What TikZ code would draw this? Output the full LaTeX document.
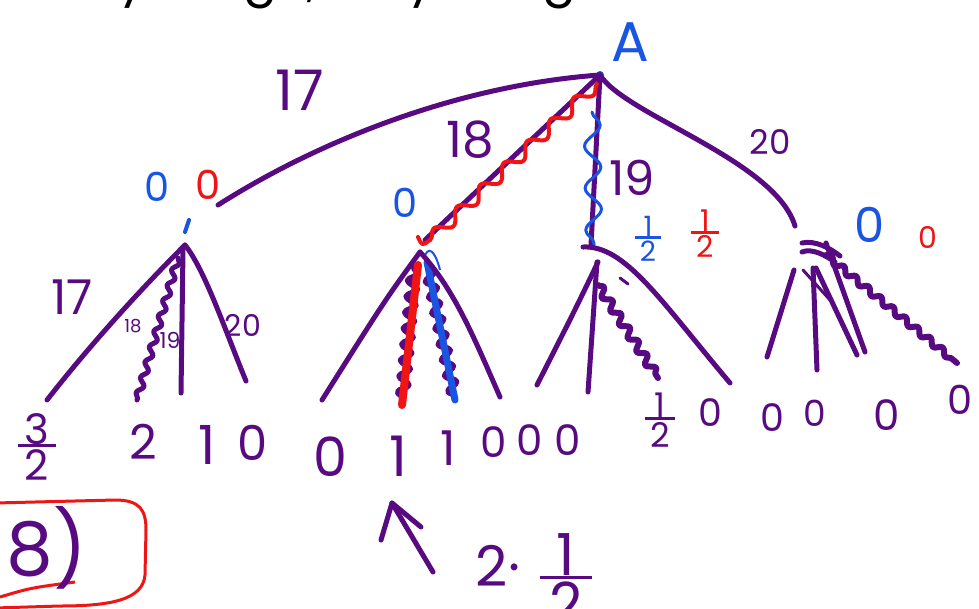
\documentclass[tikz,border=0pt]{standalone}
\usepackage{fontspec}
\setmainfont{Poppins}
\usetikzlibrary{decorations.pathmorphing}
\definecolor{pp}{RGB}{88,10,128}
\definecolor{rd}{RGB}{240,20,20}
\definecolor{bl}{RGB}{25,85,225}
\setlength{\arrayrulewidth}{3pt}
\newcommand{\hfr}[2]{\begin{tabular}{@{\,}c@{\,}}#1\\[-0.3em]\hline\noalign{\vskip0.05em}#2\end{tabular}}
\tikzset{
  pen/.style={pp, line width=5pt, line cap=round, line join=round},
  rpen/.style={rd, line width=4pt, line cap=round, line join=round},
  bpen/.style={bl, line width=4pt, line cap=round, line join=round},
  wig/.style={decorate, decoration={snake, amplitude=#1, segment length=16pt}},
  wig/.default=4pt,
  bigwig/.style={decorate, decoration={snake, amplitude=#1, segment length=32pt}},
  bigwig/.default=6pt,
  lab/.style={inner sep=0pt, font=\fontsize{#1}{#1}\selectfont},
  lab/.default=48,
}
\begin{document}
\begin{tikzpicture}[x=1pt,y=-1pt]
\useasboundingbox (0,0) rectangle (979,608);
\clip (0,0) rectangle (979,608);
% heading (cut off at the top)
\node[lab=50, anchor=base east, text=black] (head) at (865,-5) {ounty Wage, only integer amounts};
% root
\coordinate (A) at (600,75);
\node[lab=56, text=bl] (Alab) at (630,42) {A};
\fill[bl] (A) circle (4pt);
% children
\coordinate (c1) at (218,205);
\coordinate (c2) at (425,240);
\coordinate (c3) at (591,245);
\coordinate (c4) at (795,226);
\draw[pen] (c1) .. controls (320,140) and (460,85) .. (A);
\draw[pen] (A) -- (c2);
\draw[pen] (A) -- (c3);
\draw[pen] (A) .. controls (625,115) and (775,160) .. (c4);
\draw[rpen, bigwig=6pt] (597,84) -- (430,240);
\draw[rpen] (430,240) .. controls (422,246) .. (418,237);
\draw[bpen, line width=3pt, decorate, decoration={snake, amplitude=8pt, segment length=42pt}] (592,112) -- (594,245);
% edge labels
\node[lab=56,text=pp] (e17) at (300,90) {17};
\node[lab=50,text=pp] (e18) at (470,140) {18};
\node[lab=48,text=pp] (e19) at (632,178) {19};
\node[lab=34,text=pp] (e20) at (770,142) {20};
% annotations
\node[lab=40,text=bl] (b1) at (157,187) {0};
\node[lab=40,text=rd] (r1) at (208,185) {0};
\draw[bpen] (185,232) -- (189,220);
\node[lab=40,text=bl] (b2) at (405,203) {0};
\node[lab=28,text=bl] (b3) at (648,243) {\hfr{1}{2}};
\node[lab=30,text=rd] (r3) at (705,238) {\hfr{1}{2}};
\node[lab=48,text=bl] (b4) at (870,225) {0};
\node[lab=30,text=rd] (r4) at (928,237) {0};
% left subtree
\coordinate (L) at (185,245);
\draw[pen] (L) .. controls (140,290) and (90,345) .. (47,400);
\draw[pen, wig=3pt] (178,258) -- (137,400);
\draw[pen] (183,250) -- (181,393);
\draw[pen] (L) .. controls (205,270) and (225,330) .. (246,381);
\node[lab=48,text=pp] (l17) at (72,297) {17};
\node[lab=18,text=pp] (l18) at (133,326) {18};
\node[lab=22,text=pp] (l19) at (170,340) {19};
\node[lab=30,text=pp] (l20) at (243,325) {20};
% middle subtree
\coordinate (M) at (420,252);
\draw[pen] (M) .. controls (385,300) .. (322,400);
\draw[pen, line width=6pt, wig=5pt] (414,268) -- (402,402);
\draw[rd, line width=8pt, line cap=round] (418,265) -- (402,405);
\draw[pen, line width=6pt, wig=5pt] (428,268) -- (455,400);
\draw[bl, line width=7pt, line cap=round] (427,262) -- (455,400);
\draw[bl, line width=2pt] (424,258) .. controls (428,245) and (435,250) .. (440,270);
\draw[pen] (M) .. controls (455,290) and (475,340) .. (500,397);
% third subtree
\draw[pen] (583,247) .. controls (625,245) and (660,300) .. (730,383);
\draw[pen] (598,262) .. controls (575,310) .. (537,385);
\draw[pen] (597,262) -- (588,392);
\draw[pen, line width=6pt, wig=4pt] (598,285) -- (658,378);
\draw[pen, line width=3pt] (620,278) -- (628,284);
% fourth subtree
\draw[pen, line width=6pt, wig=3pt] (826,255) -- (957,363);
\draw[pen] (802,243) .. controls (815,240) and (830,248) .. (840,256);
\draw[pen] (802,252) .. controls (812,248) and (825,255) .. (835,262);
\draw[pen] (794,270) -- (767,357);
\draw[pen] (813,268) -- (817,370);
\draw[pen] (816,268) -- (857,355);
\draw[pen] (826,243) -- (865,352);
\draw[pen, line width=3pt] (803,270) -- (830,300);
% leaves
\node[lab=42,text=pp] (v1) at (37,453) {\hfr{3}{2}};
\node[lab=48,text=pp] (v2) at (143,442) {2};
\node[lab=54,text=pp] (v3) at (207,445) {1};
\node[lab=48,text=pp] (v4) at (253,443) {0};
\node[lab=54,text=pp] (v5) at (330,457) {0};
\node[lab=56,text=pp] (v6) at (398,456) {1};
\node[lab=48,text=pp] (v7) at (448,448) {1};
\node[lab=42,text=pp] (v8) at (494,442) {0};
\node[lab=42,text=pp] (v9) at (530,440) {0};
\node[lab=42,text=pp] (v10) at (568,440) {0};
\node[lab=34,text=pp] (v11) at (660,425) {\hfr{1}{2}};
\node[lab=38,text=pp] (v12) at (710,413) {0};
\node[lab=38,text=pp] (v13) at (772,418) {0};
\node[lab=36,text=pp] (v14) at (815,413) {0};
\node[lab=42,text=pp] (v15) at (887,415) {0};
\node[lab=40,text=pp] (v16) at (960,400) {0};
% bottom: boxed 8)
\draw[rd, line width=3pt] (-5,503) -- (115,500) .. controls (140,500) and (146,510) .. (146,530) -- (145,575) .. controls (143,600) and (110,606) .. (60,606) -- (-5,608);
\draw[rd, line width=3pt] (0,597) .. controls (30,588) .. (75,582);
\node[lab=74,text=pp] (eight) at (47,548) {8)};
% arrow
\coordinate (atail) at (433,572);
\coordinate (atip) at (392,503);
\coordinate (hl) at (381,540);
\coordinate (hr) at (421,527);
\draw[pen] (atail) -- (atip);
\draw[pen] (hl) -- (atip) -- (hr);
\node[lab=56,text=pp] (two) at (498,566) {2·};
\node[lab=58,text=pp] (half) at (566,588) {\hfr{1}{2}};
\end{tikzpicture}
\end{document}
